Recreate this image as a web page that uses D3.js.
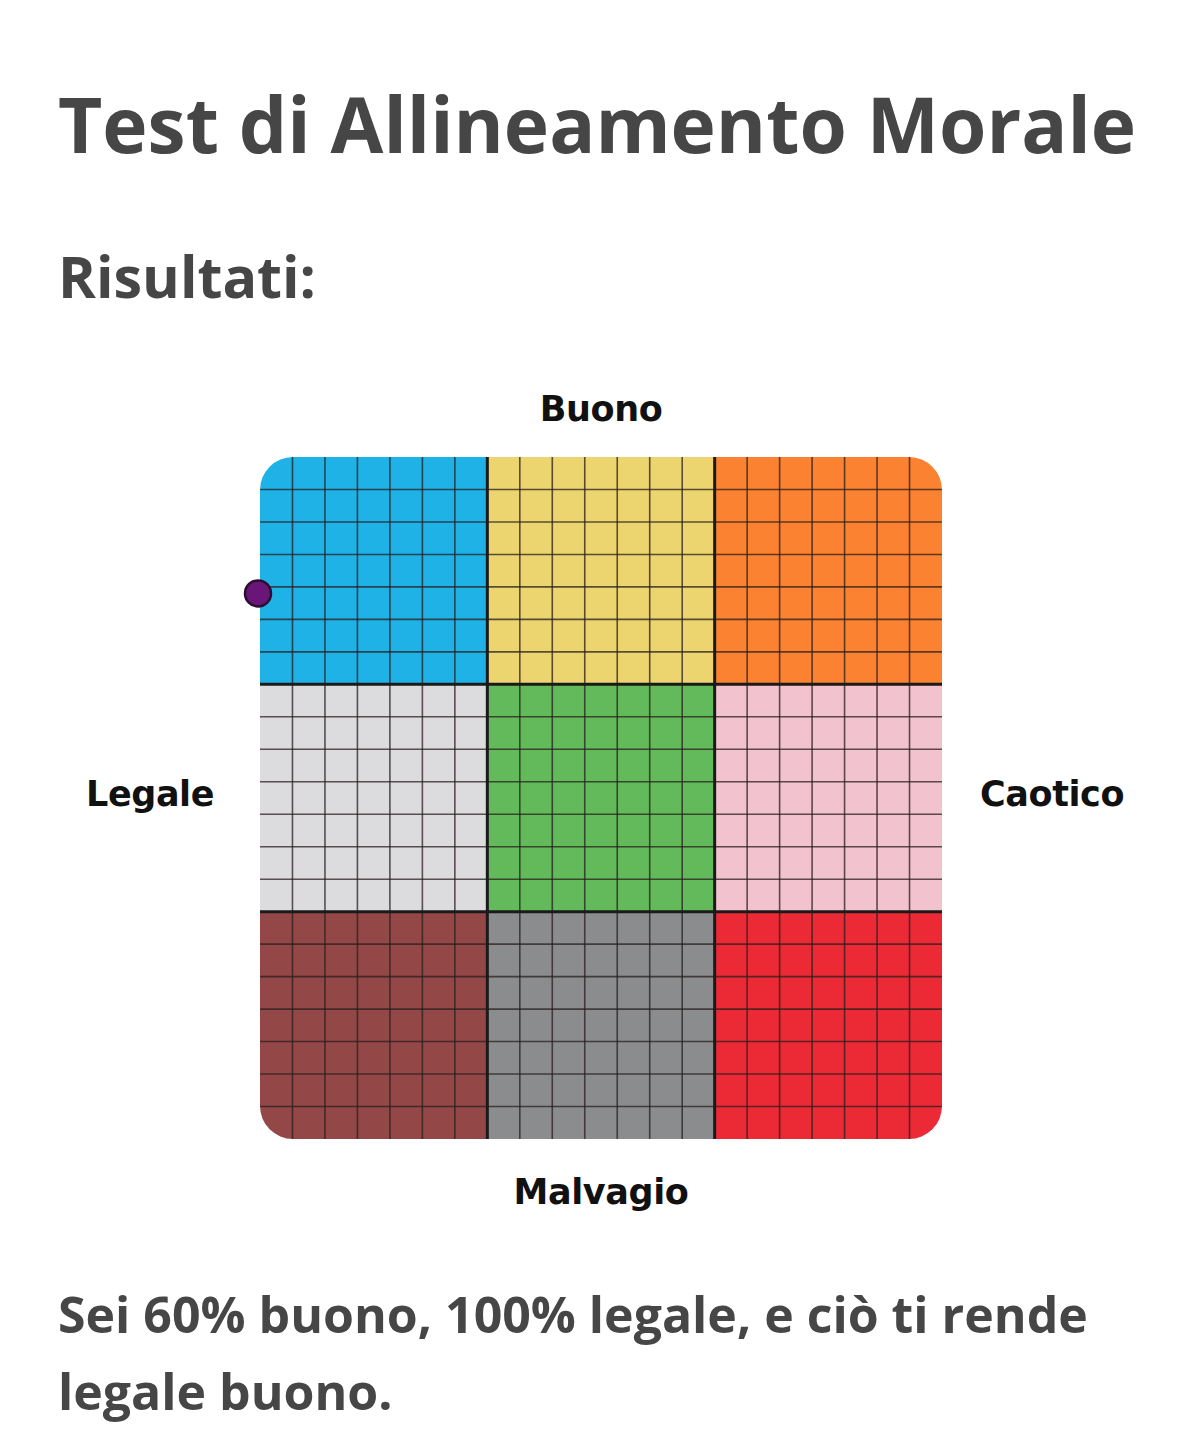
<!DOCTYPE html>
<html>
<head>
<meta charset="utf-8">
<script src="https://cdn.jsdelivr.net/npm/d3@7"></script>
<style>
  body { margin: 0; background: #fff; }
  svg { display: block; }
</style>
</head>
<body>
<div id="chart"></div>
<script>
// alignment axes
const colsLabels = ['Legale', 'Neutrale', 'Caotico'];
const rowsLabels = ['Buono', 'Neutrale', 'Malvagio'];
const blockColors = [
  ['#1fb2e6', '#ecd46e', '#fb8230'],
  ['#dcdcde', '#62ba5a', '#f2c2cf'],
  ['#934747', '#8a8c8e', '#ec2a35']
];
const cellsPerBlock = 7;
// result: -100 = legale, +100 = caotico ; +100 = buono, -100 = malvagio
const resultLawChaos = [-100];
const resultGoodEvil = [60];

const W = 1200, H = 1451;
const svg = d3.select('#chart').append('svg')
    .attr('width', W)
    .attr('height', H);

const textColor = '#464646';
svg.append('text')
    .attr('x', 58).attr('y', 153)
    .attr('font-family', 'Open Sans')
    .attr('font-weight', 700)
    .attr('font-size', 76.6)
    .attr('fill', textColor)
    .text('Test di Allineamento Morale');

svg.append('text')
    .attr('x', 58).attr('y', 298)
    .attr('font-family', 'Open Sans')
    .attr('font-weight', 700)
    .attr('font-size', 57.5)
    .attr('fill', textColor)
    .text('Risultati:');

let gLeft = 260, gRight = 942, gTop = 457, gBottom = 1139;

let x = d3.scaleLinear().domain([-100, 100]).range([gLeft, gRight]);
let y = d3.scaleLinear().domain([-100, 100]).range([gBottom, gTop]);
let bx = d3.scaleBand().domain(colsLabels.map((d, i) => i)).range([gLeft, gRight]);
let by = d3.scaleBand().domain(rowsLabels.map((d, i) => i)).range([gTop, gBottom]);

let nCells = cellsPerBlock * 3;
let cx = d3.scaleLinear().domain([0, nCells]).range([gLeft, gRight]);
let cy = d3.scaleLinear().domain([0, nCells]).range([gTop, gBottom]);

svg.append('clipPath').attr('id', 'round')
  .append('rect')
    .attr('x', gLeft).attr('y', gTop)
    .attr('width', gRight - gLeft).attr('height', gBottom - gTop)
    .attr('rx', 33).attr('ry', 33);

let grid = svg.append('g').attr('clip-path', 'url(#round)');

let blocks = [];
blockColors.forEach((row, r) => row.forEach((c, k) => blocks.push({r: r, k: k, color: c})));

grid.selectAll('rect.block')
    .data(blocks)
    .enter()
    .append('rect')
    .attr('class', 'block')
    .attr('x', d => bx(d.k))
    .attr('y', d => by(d.r))
    .attr('width', bx.bandwidth() + 0.5)
    .attr('height', by.bandwidth() + 0.5)
    .attr('fill', d => d.color);

let thin = d3.range(1, nCells).filter(i => i % cellsPerBlock != 0);
grid.selectAll('line.v')
    .data(thin)
    .enter()
    .append('line')
    .attr('x1', d => cx(d)).attr('x2', d => cx(d))
    .attr('y1', gTop).attr('y2', gBottom)
    .attr('stroke', '#2a1f1f').attr('stroke-opacity', 0.75)
    .attr('stroke-width', 1.6);
grid.selectAll('line.h')
    .data(thin)
    .enter()
    .append('line')
    .attr('y1', d => cy(d)).attr('y2', d => cy(d))
    .attr('x1', gLeft).attr('x2', gRight)
    .attr('stroke', '#2a1f1f').attr('stroke-opacity', 0.75)
    .attr('stroke-width', 1.6);

let thick = [1, 2];
grid.selectAll('line.tv')
    .data(thick)
    .enter()
    .append('line')
    .attr('x1', d => bx(d)).attr('x2', d => bx(d))
    .attr('y1', gTop).attr('y2', gBottom)
    .attr('stroke', '#1a1a1a')
    .attr('stroke-width', 3);
grid.selectAll('line.th')
    .data(thick)
    .enter()
    .append('line')
    .attr('y1', d => by(d)).attr('y2', d => by(d))
    .attr('x1', gLeft).attr('x2', gRight)
    .attr('stroke', '#1a1a1a')
    .attr('stroke-width', 3);

// axis labels
let labelFont = 'DejaVu Sans';
let cxMid = (gLeft + gRight) / 2;
let axisLabels = [
  {t: rowsLabels[0], x: cxMid, y: 421, a: 'middle'},
  {t: rowsLabels[2], x: cxMid, y: 1204, a: 'middle'},
  {t: colsLabels[0], x: 86, y: 806, a: 'start'},
  {t: colsLabels[2], x: 980, y: 806, a: 'start'}
];
svg.selectAll('text.axis')
    .data(axisLabels)
    .enter()
    .append('text')
    .attr('class', 'axis')
    .attr('x', d => d.x).attr('y', d => d.y)
    .attr('text-anchor', d => d.a)
    .attr('font-family', labelFont)
    .attr('font-weight', 700)
    .attr('font-size', 35)
    .attr('letter-spacing', -0.4)
    .attr('fill', '#111')
    .text(d => d.t);

// result point
svg.selectAll('circle.result')
    .data(resultLawChaos.map((v, i) => [v, resultGoodEvil[i]]))
    .enter()
    .append('circle')
    .attr('class', 'result')
    .attr('cx', d => x(d[0]) - 2)
    .attr('cy', d => y(d[1]))
    .attr('r', 13)
    .attr('fill', '#6a1679')
    .attr('stroke', '#2a0f2e')
    .attr('stroke-width', 2.5);

let summary = svg.append('text')
    .attr('font-family', 'Open Sans')
    .attr('font-weight', 700)
    .attr('font-size', 50)
    .attr('fill', textColor);
summary.append('tspan').attr('x', 58).attr('y', 1333)
    .text('Sei ' + resultGoodEvil[0] + '% buono, ' + Math.abs(resultLawChaos[0]) + '% legale, e ciò ti rende');
summary.append('tspan').attr('x', 58).attr('y', 1410)
    .text('legale buono.');
</script>
</body>
</html>
